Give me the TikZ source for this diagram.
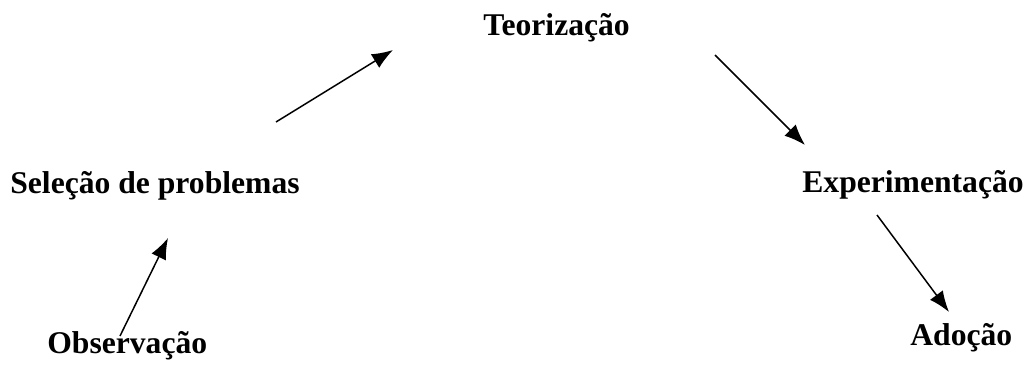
\documentclass[tikz,border=0pt]{standalone}
\usepackage{fontspec}
\setmainfont{Liberation Serif}
\usetikzlibrary{arrows.meta}

\begin{document}
\begin{tikzpicture}[x = 0.02cm, y = -0.02cm,
        etapa/.style = {font = \fontsize{18}{20}\selectfont\bfseries, inner sep = 0, anchor = base west},
        seta/.style = {line width = 0.85pt, -{Latex[length = 4.2mm, width = 3.2mm]}}]
        \useasboundingbox (0,0) rectangle (1027,365);
        
        \node[etapa] (teoria) at (483,35) {Teorização};
        \node[etapa] (selecao) at (10,193) {Seleção de problemas};
        \node[etapa] (experimento) at (802,192) {Experimentação};
        \node[etapa] (observacao) at (47,353) {Observação};
        \node[etapa] (adocao) at (910,345) {Adoção};
        
        \coordinate (o1) at (120,336);
        \coordinate (o2) at (168,238);
        \coordinate (s1) at (276,122);
        \coordinate (s2) at (393,50);
        \coordinate (t1) at (715,55);
        \coordinate (t2) at (805,145);
        \coordinate (e1) at (877,215);
        \coordinate (e2) at (949,312);
        
        \draw[seta] (o1) -- (o2);
        \draw[seta] (s1) -- (s2);
        \draw[seta] (t1) -- (t2);
        \draw[seta] (e1) -- (e2);
    \end{tikzpicture}
\end{document}
